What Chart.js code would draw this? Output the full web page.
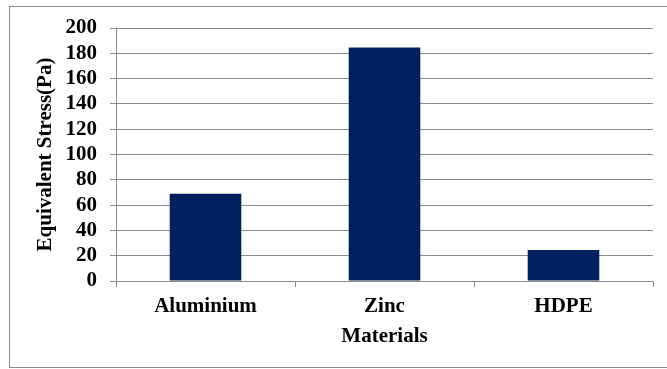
<!DOCTYPE html>
<html>
<head>
<meta charset="utf-8">
<script src="https://cdn.jsdelivr.net/npm/chart.js@4/dist/chart.umd.min.js"></script>
<style>
  html, body { margin: 0; padding: 0; background: #fff; }
  .wrap { position: relative; width: 667px; height: 369px; }
  .frame {
    position: absolute; left: 9px; top: 6px; width: 670px; height: 362px;
    border: 1px solid #8c8c8c; box-sizing: border-box;
  }
  canvas { position: absolute; left: 0; top: 0; }
</style>
</head>
<body>
<div class="wrap">
  <div class="frame"></div>
  <canvas id="myChart" width="667" height="369"></canvas>
</div>
<script>
const materials = ["Aluminium", "Zinc", "HDPE"];
const stress = [69, 184.5, 24.5];
const yTicks = [0, 20, 40, 60, 80, 100, 120, 140, 160, 180, 200];

const font = { family: "'Liberation Serif', 'Times New Roman', serif", size: 21, weight: "bold" };

const ctx = document.getElementById("myChart");

new Chart(ctx, {
  type: "bar",
  data: {
    labels: materials,
    datasets: [
      {
        label: "Equivalent Stress(Pa)",
        data: stress,
        backgroundColor: "#002060",
        barPercentage: 0.4,
        categoryPercentage: 1,
      },
    ],
  },
  options: {
    responsive: false,
    animation: false,
    layout: { padding: { left: 10, right: 14, top: 28, bottom: 0 } },
    plugins: { legend: { display: false }, tooltip: { enabled: false } },
    scales: {
      x: {
        grid: { drawOnChartArea: false, drawTicks: true, tickLength: 6, color: "#8c8c8c", offset: true },
        border: { color: "#8c8c8c" },
        ticks: { color: "#000", font: font, padding: 7 },
        title: { display: true, text: "Materials", color: "#000", font: font, padding: { top: 0, bottom: 20 } },
        afterFit: (scale) => { scale.height = 88; },
      },
      y: {
        min: 0,
        max: 200,
        afterBuildTicks: (scale) => { scale.ticks = yTicks.map((v) => ({ value: v })); },
        grid: { color: "#8c8c8c", tickLength: 6 },
        border: { color: "#8c8c8c" },
        ticks: { color: "#000", font: font, padding: 13, autoSkip: false },
        title: { display: true, text: "Equivalent Stress(Pa)", color: "#000", font: font, padding: { top: 23, bottom: 0 } },
        afterFit: (scale) => { scale.width = 106; },
      },
    },
  },
});
</script>
</body>
</html>
